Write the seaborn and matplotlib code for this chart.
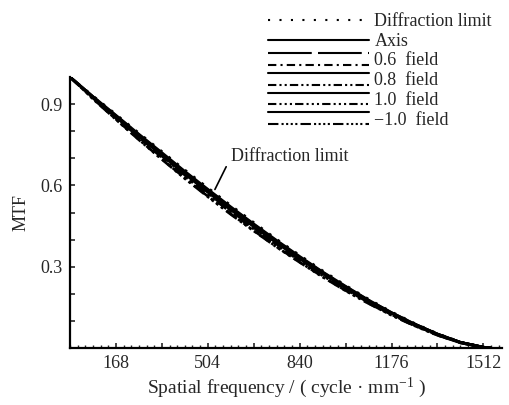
import matplotlib
matplotlib.use("Agg")
import matplotlib.pyplot as plt
import pandas as pd
import seaborn as sns
from matplotlib.lines import Line2D
from matplotlib.legend_handler import HandlerBase
from matplotlib.ticker import FixedLocator, MultipleLocator

# spatial frequency samples (cycle/mm)
freq = [0, 84, 168, 252, 336, 420, 504, 588, 672, 756, 840, 924, 1008, 1092,
        1176, 1260, 1344, 1428, 1512, 1540]

# MTF values
diffraction = [1.0, 0.930, 0.862, 0.793, 0.725, 0.657, 0.591, 0.526, 0.463, 0.401,
               0.342, 0.285, 0.231, 0.180, 0.133, 0.091, 0.053, 0.022, 0.003, 0.0]
axis_t = [1.0, 0.928, 0.859, 0.789, 0.721, 0.652, 0.586, 0.521, 0.458, 0.397,
          0.338, 0.281, 0.228, 0.177, 0.131, 0.089, 0.052, 0.021, 0.003, 0.0]
f06_t = [1.0, 0.927, 0.857, 0.787, 0.718, 0.649, 0.583, 0.518, 0.455, 0.394,
         0.335, 0.279, 0.226, 0.176, 0.130, 0.089, 0.051, 0.021, 0.003, 0.0]
f06_s = [1.0, 0.924, 0.851, 0.778, 0.708, 0.638, 0.571, 0.506, 0.444, 0.383,
         0.326, 0.271, 0.219, 0.170, 0.125, 0.085, 0.049, 0.020, 0.002, 0.0]
f08_t = [1.0, 0.926, 0.855, 0.784, 0.715, 0.646, 0.580, 0.515, 0.452, 0.391,
         0.333, 0.277, 0.224, 0.174, 0.129, 0.088, 0.051, 0.021, 0.003, 0.0]
f08_s = [1.0, 0.922, 0.848, 0.774, 0.703, 0.633, 0.566, 0.501, 0.439, 0.379,
         0.322, 0.267, 0.216, 0.168, 0.123, 0.084, 0.048, 0.019, 0.002, 0.0]
f10_t = [1.0, 0.925, 0.853, 0.781, 0.712, 0.643, 0.576, 0.511, 0.449, 0.388,
         0.330, 0.275, 0.222, 0.173, 0.128, 0.087, 0.051, 0.021, 0.003, 0.0]
f10_s = [1.0, 0.920, 0.844, 0.769, 0.697, 0.627, 0.560, 0.495, 0.433, 0.373,
         0.317, 0.263, 0.212, 0.165, 0.121, 0.082, 0.047, 0.019, 0.002, 0.0]
fm10_t = [1.0, 0.925, 0.852, 0.780, 0.711, 0.642, 0.575, 0.510, 0.448, 0.388,
          0.330, 0.275, 0.222, 0.173, 0.128, 0.087, 0.050, 0.021, 0.003, 0.0]
fm10_s = [1.0, 0.919, 0.843, 0.768, 0.696, 0.625, 0.558, 0.493, 0.432, 0.372,
          0.316, 0.262, 0.211, 0.164, 0.121, 0.082, 0.047, 0.019, 0.002, 0.0]

series = {
    "Axis": axis_t,
    "0.6 T": f06_t, "0.6 S": f06_s,
    "0.8 T": f08_t, "0.8 S": f08_s,
    "1.0 T": f10_t, "1.0 S": f10_s,
    "-1.0 T": fm10_t, "-1.0 S": fm10_s,
    "Diffraction": diffraction,
}

dash_map = {
    "Axis": "",
    "0.6 T": (14, 2), "0.6 S": (4, 2, 1, 2),
    "0.8 T": "", "0.8 S": (4, 1.5, 1, 1.5, 1, 1.5),
    "1.0 T": "", "1.0 S": (4, 1.5, 1, 1.5, 1, 1.5, 1, 1.5),
    "-1.0 T": "", "-1.0 S": (5, 1.5, 1, 1.2, 1, 1.2, 1, 1.2, 1, 1.5),
    "Diffraction": (1, 3),
}

rows = []
for name, vals in series.items():
    for f, v in zip(freq, vals):
        rows.append({"freq": f, "mtf": v, "curve": name})
df = pd.DataFrame(rows)

sns.set_style("white")
plt.rcParams["font.family"] = ["Liberation Serif", "DejaVu Serif"]
plt.rcParams["mathtext.fontset"] = "custom"
plt.rcParams["mathtext.rm"] = "Liberation Serif"
plt.rcParams["mathtext.it"] = "Liberation Serif:italic"

fig = plt.figure(figsize=(5.09, 4.05), dpi=100)
ax = fig.add_axes([70 / 509, 1 - 348 / 405, 432 / 509, 271 / 405])

sns.lineplot(data=df, x="freq", y="mtf", hue="curve", style="curve",
             palette={k: "black" for k in series}, dashes=dash_map,
             linewidth=1.9, legend=False, sort=False, ax=ax)

ax.set_xlim(0, 1580)
ax.set_ylim(0, 1.0)
ax.xaxis.set_minor_locator(MultipleLocator(28))
ax.set_xticks([168, 336, 504, 672, 840, 1008, 1176, 1344, 1512])
ax.set_xticklabels(["168", "", "504", "", "840", "", "1176", "", "1512"])
ax.yaxis.set_major_locator(FixedLocator([0.1, 0.2, 0.3, 0.4, 0.5, 0.6, 0.7, 0.8, 0.9]))
ax.set_yticklabels(["", "", "0.3", "", "", "0.6", "", "", "0.9"])
ax.tick_params(axis="both", which="major", direction="in", length=3.5, width=1.2,
               labelsize=13, pad=5, bottom=True, left=True)
ax.tick_params(axis="x", which="minor", direction="in", length=2, width=1, bottom=True)

for s in ["top", "right"]:
    ax.spines[s].set_visible(False)
for s in ["left", "bottom"]:
    ax.spines[s].set_linewidth(1.6)
    ax.spines[s].set_color("black")

ax.set_xlabel("Spatial frequency / ( cycle · mm$^{-1}$ )", fontsize=14, labelpad=3)
ax.set_ylabel("MTF", fontsize=13, labelpad=8)

ax.annotate("Diffraction limit", xy=(530, 0.585), xytext=(590, 0.707),
            ha="left", va="center", fontsize=13,
            arrowprops=dict(arrowstyle="-", color="black", lw=1.2,
                            shrinkA=3, shrinkB=0, relpos=(0, 0.5)))


class PairHandler(HandlerBase):
    # draw two legend lines stacked vertically
    def create_artists(self, legend, orig_handle, xdescent, ydescent, width,
                       height, fontsize, trans):
        out = []
        ys = [height * 1.0 - ydescent, height * 0.0 - ydescent]
        for h, y in zip(orig_handle, ys):
            ln = Line2D([-xdescent, width - xdescent], [y, y])
            ln.update_from(h)
            ln.set_transform(trans)
            out.append(ln)
        return out


def mk(d, lw=1.5):
    if d == "":
        return Line2D([], [], color="black", lw=lw, linestyle="-")
    return Line2D([], [], color="black", lw=lw, dashes=d)


handles = [
    mk((1, 4.5)),
    mk(""),
    (mk((21, 3)), mk(dash_map["0.6 S"])),
    (mk(""), mk(dash_map["0.8 S"])),
    (mk(""), mk(dash_map["1.0 S"])),
    (mk(""), mk(dash_map["-1.0 S"])),
]
labels = ["Diffraction limit", "Axis", "0.6  field", "0.8  field",
          "1.0  field", "\u22121.0  field"]
fig.legend(handles, labels, handler_map={tuple: PairHandler()},
           loc="upper right", bbox_to_anchor=(492 / 509, 1 - 13 / 405),
           frameon=False, fontsize=13, handlelength=5.6, handleheight=0.62,
           handletextpad=0.3, labelspacing=0.15, borderpad=0, borderaxespad=0)

fig.savefig("out.png", dpi=100)
